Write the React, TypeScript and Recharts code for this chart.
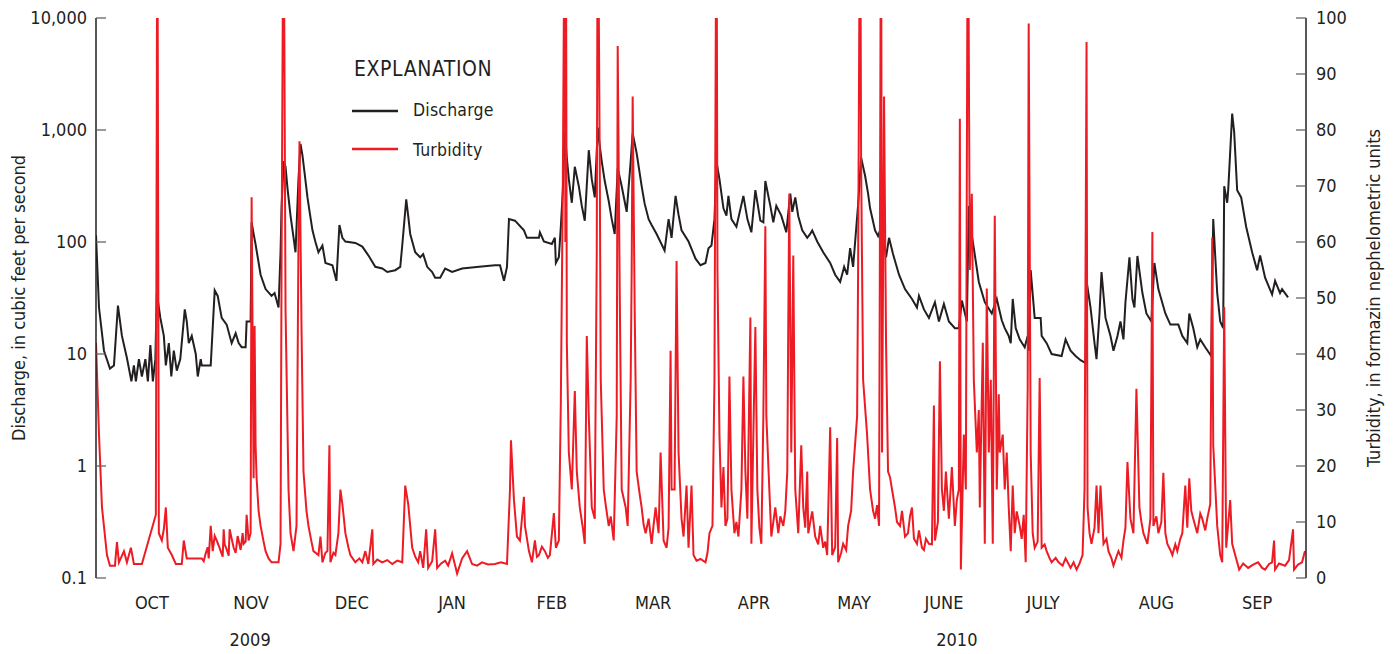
import React from 'react';
import { ComposedChart, Line, XAxis, YAxis, Legend, Label } from 'recharts';

const FONT = '"Liberation Sans Narrow", "Arial Narrow", "DejaVu Sans Condensed", Roboto, sans-serif';
const INK = '#231f20';
const RED = '#ed1c24';
const TICK_GREY = '#58595b';

// [month since 1 Oct 2009 (fractional), discharge in cubic feet per second]
const dischargeReadings: [number, number][] = [
  [0.00, 115], [0.03, 26], [0.08, 10.7], [0.14, 7.4], [0.18, 7.9], [0.22, 27], [0.26, 14.5], [0.31, 9.2],
  [0.355, 5.7], [0.38, 7.9], [0.40, 5.7], [0.43, 9], [0.46, 6.3], [0.495, 9], [0.52, 5.7], [0.545, 12],
  [0.57, 5.7], [0.595, 9], [0.61, 35], [0.645, 21], [0.68, 14.5], [0.70, 7.9], [0.73, 12.5], [0.755, 6.3],
  [0.78, 10.7], [0.81, 7.1], [0.845, 9], [0.89, 25], [0.91, 19.5], [0.93, 12.5], [0.96, 14.5], [1.00, 10],
  [1.02, 6.3], [1.05, 9], [1.06, 7.9], [1.11, 7.9], [1.15, 7.9], [1.19, 37], [1.22, 33], [1.26, 21],
  [1.31, 18.3], [1.36, 12.5], [1.40, 15.3], [1.43, 12.5], [1.46, 11.5], [1.50, 11.5], [1.51, 19.5], [1.55, 19.5],
  [1.56, 150], [1.58, 118], [1.60, 95], [1.65, 51], [1.70, 38], [1.76, 33], [1.79, 35], [1.83, 26],
  [1.85, 81], [1.86, 200], [1.88, 525], [1.90, 470], [1.92, 300], [1.95, 172], [1.98, 110], [2.00, 81],
  [2.03, 364], [2.05, 750], [2.07, 590], [2.09, 420], [2.12, 250], [2.14, 190], [2.17, 127], [2.20, 100],
  [2.23, 81], [2.27, 93], [2.30, 65], [2.37, 62], [2.41, 45], [2.44, 142], [2.47, 109], [2.50, 101],
  [2.60, 98], [2.67, 91], [2.73, 76], [2.80, 60], [2.87, 58], [2.92, 54], [3.00, 56], [3.05, 60],
  [3.07, 93], [3.11, 240], [3.13, 170], [3.15, 118], [3.20, 81], [3.25, 73], [3.28, 78], [3.32, 60],
  [3.37, 54], [3.40, 48], [3.45, 48], [3.50, 58], [3.57, 54], [3.67, 58], [3.84, 60], [4.00, 62],
  [4.05, 62], [4.09, 45], [4.12, 60], [4.14, 160], [4.20, 155], [4.29, 127], [4.32, 109], [4.44, 109],
  [4.45, 122], [4.49, 101], [4.57, 96], [4.60, 109], [4.61, 65], [4.64, 73], [4.66, 137], [4.68, 290],
  [4.70, 1000], [4.72, 560], [4.74, 364], [4.77, 224], [4.80, 470], [4.84, 315], [4.87, 210], [4.90, 155],
  [4.94, 660], [4.97, 364], [5.00, 250], [5.03, 1050], [5.05, 720], [5.07, 525], [5.10, 350], [5.14, 232],
  [5.17, 160], [5.20, 118], [5.23, 456], [5.27, 315], [5.32, 186], [5.36, 525], [5.38, 933], [5.42, 620],
  [5.47, 315], [5.50, 220], [5.54, 160], [5.57, 142], [5.62, 118], [5.70, 84], [5.74, 160], [5.77, 109],
  [5.81, 258], [5.84, 175], [5.87, 127], [5.94, 101], [6.01, 71], [6.06, 62], [6.11, 65], [6.14, 88],
  [6.17, 93], [6.20, 160], [6.22, 525], [6.25, 364], [6.29, 200], [6.32, 172], [6.34, 258], [6.37, 160],
  [6.42, 137], [6.49, 258], [6.53, 160], [6.57, 122], [6.61, 290], [6.66, 155], [6.69, 150], [6.71, 350],
  [6.76, 210], [6.79, 150], [6.82, 210], [6.87, 172], [6.92, 122], [6.96, 270], [6.98, 186], [7.01, 250],
  [7.04, 170], [7.08, 127], [7.13, 109], [7.16, 118], [7.18, 127], [7.23, 101], [7.29, 81], [7.36, 65],
  [7.41, 51], [7.46, 44], [7.50, 60], [7.53, 51], [7.56, 88], [7.59, 60], [7.64, 215], [7.67, 570],
  [7.69, 470], [7.71, 390], [7.74, 270], [7.76, 200], [7.81, 127], [7.84, 113], [7.88, 142], [7.92, 73],
  [7.95, 109], [7.99, 78], [8.05, 51], [8.11, 38], [8.18, 31], [8.23, 26], [8.25, 33], [8.30, 25],
  [8.35, 21], [8.41, 29], [8.45, 19.5], [8.50, 28], [8.55, 19.5], [8.61, 17], [8.65, 17], [8.68, 30],
  [8.73, 19.5], [8.75, 210], [8.77, 130], [8.80, 88], [8.85, 44], [8.91, 29], [8.98, 23], [9.03, 31],
  [9.05, 26], [9.08, 20], [9.11, 17], [9.15, 14.5], [9.17, 12.5], [9.19, 31], [9.22, 17], [9.26, 13.5],
  [9.31, 11.5], [9.34, 14.5], [9.35, 10.7], [9.37, 56], [9.41, 21], [9.47, 21], [9.48, 14.5], [9.53, 12.5],
  [9.58, 10], [9.68, 9.6], [9.72, 13.5], [9.77, 10.7], [9.82, 9.6], [9.87, 8.8], [9.92, 8.3], [9.93, 45],
  [9.97, 26], [10.01, 12.5], [10.03, 9], [10.06, 23], [10.08, 54], [10.12, 21], [10.17, 14.5], [10.20, 10.7],
  [10.24, 14.5], [10.27, 19.5], [10.30, 13.5], [10.32, 29], [10.36, 73], [10.39, 31], [10.41, 26], [10.44, 75],
  [10.49, 35], [10.53, 23], [10.58, 19.5], [10.61, 65], [10.65, 38], [10.72, 23], [10.77, 18.3], [10.85, 18.3],
  [10.89, 14.5], [10.94, 12.5], [10.96, 23], [11.00, 17], [11.04, 11.5], [11.07, 13.5], [11.12, 11.5], [11.18, 9.6],
  [11.20, 160], [11.24, 35], [11.27, 19.5], [11.30, 17], [11.31, 315], [11.34, 224], [11.35, 290], [11.39, 1400],
  [11.41, 960], [11.44, 290], [11.48, 250], [11.53, 137], [11.59, 81], [11.64, 56], [11.67, 76], [11.72, 48],
  [11.79, 34], [11.82, 45], [11.87, 35], [11.89, 38], [11.95, 32],
];

// [month since 1 Oct 2009 (fractional), turbidity in FNU]
const turbidityReadings: [number, number][] = [
  [0.00, 42], [0.03, 25.6], [0.06, 12.6], [0.11, 4.1], [0.14, 2.2], [0.19, 2.2], [0.21, 6.4], [0.23, 2.8],
  [0.28, 4.8], [0.31, 2.8], [0.35, 5.4], [0.38, 2.5], [0.46, 2.5], [0.60, 11.3], [0.615, 130], [0.63, 8],
  [0.66, 6.7], [0.68, 8.7], [0.70, 12.6], [0.72, 5.4], [0.76, 4.1], [0.80, 2.5], [0.86, 2.5], [0.88, 6.7],
  [0.91, 3.5], [0.96, 3.5], [1.06, 3.5], [1.08, 3.0], [1.10, 4.4], [1.12, 5.5], [1.13, 3.5], [1.15, 9.3],
  [1.17, 4.8], [1.19, 7.5], [1.21, 6.7], [1.23, 5.8], [1.25, 4.8], [1.27, 3.8], [1.28, 8.7], [1.29, 6.0],
  [1.31, 5.1], [1.33, 4.0], [1.34, 8.7], [1.36, 7.0], [1.38, 5.4], [1.40, 4.5], [1.42, 7.5], [1.43, 6.7],
  [1.45, 5.0], [1.47, 8.0], [1.48, 6.1], [1.50, 6.5], [1.51, 11.3], [1.53, 6.7], [1.55, 8], [1.56, 68],
  [1.58, 17.8], [1.59, 45], [1.60, 23.7], [1.61, 17.8], [1.63, 12], [1.65, 9.3], [1.68, 6.5], [1.70, 4.8],
  [1.73, 3.5], [1.76, 2.8], [1.83, 2.8], [1.85, 6.1], [1.86, 55], [1.88, 130], [1.90, 48], [1.93, 15.8],
  [1.95, 8], [1.98, 4.8], [2.01, 9.3], [2.03, 61], [2.04, 78], [2.06, 45], [2.08, 19], [2.11, 12],
  [2.13, 9.3], [2.16, 6.5], [2.18, 4.8], [2.23, 4.1], [2.25, 7.4], [2.27, 2.8], [2.30, 4.5], [2.32, 4.8],
  [2.34, 23.7], [2.35, 2.8], [2.38, 4.5], [2.40, 4.1], [2.43, 8], [2.45, 15.8], [2.47, 13.2], [2.50, 8],
  [2.53, 5.5], [2.55, 4.1], [2.60, 2.8], [2.64, 3.5], [2.67, 2.8], [2.70, 4.8], [2.73, 2.5], [2.77, 8.7],
  [2.78, 2.5], [2.82, 3.3], [2.87, 2.8], [2.92, 3.2], [2.97, 2.5], [3.02, 3.1], [3.07, 2.8], [3.10, 16.5],
  [3.13, 13.2], [3.17, 5.4], [3.20, 3.8], [3.23, 2.8], [3.25, 4.8], [3.28, 1.8], [3.31, 8.7], [3.33, 1.8],
  [3.37, 3.0], [3.40, 8.7], [3.42, 1.8], [3.46, 2.6], [3.50, 3.1], [3.53, 2.2], [3.57, 4.4], [3.62, 0.8],
  [3.67, 3.5], [3.72, 4.8], [3.77, 2.5], [3.82, 2.2], [3.87, 2.8], [3.93, 2.4], [4.00, 2.5], [4.06, 2.8],
  [4.12, 2.5], [4.15, 15.8], [4.16, 24.6], [4.19, 13.9], [4.22, 7.4], [4.25, 6.7], [4.29, 14.5], [4.30, 9.3],
  [4.34, 4.8], [4.37, 2.8], [4.40, 6.7], [4.42, 3.8], [4.44, 4.1], [4.47, 5.6], [4.50, 4.8], [4.53, 3.6],
  [4.55, 4.1], [4.59, 11.6], [4.61, 5.4], [4.64, 6.7], [4.66, 31.5], [4.68, 71], [4.70, 130], [4.705, 60],
  [4.71, 130], [4.72, 42], [4.74, 22.4], [4.77, 15.8], [4.80, 33.4], [4.82, 19], [4.85, 12.6], [4.88, 9],
  [4.90, 6.1], [4.92, 43.2], [4.94, 28.9], [4.97, 12.6], [5.00, 10.6], [5.02, 58], [5.03, 130], [5.05, 74.5],
  [5.06, 35.4], [5.09, 15.8], [5.11, 13], [5.14, 9.3], [5.16, 11], [5.19, 6.7], [5.22, 28.9], [5.23, 95],
  [5.25, 51.7], [5.27, 15.8], [5.31, 12.6], [5.33, 9.3], [5.36, 35.4], [5.37, 55], [5.38, 86], [5.40, 48.4],
  [5.42, 19], [5.45, 15], [5.47, 12.6], [5.49, 9.5], [5.51, 8], [5.54, 10.6], [5.57, 6.1], [5.59, 9.5],
  [5.61, 12.6], [5.64, 8], [5.66, 22.4], [5.69, 6.7], [5.72, 5.4], [5.74, 9], [5.76, 40.6], [5.77, 15.8],
  [5.80, 15.8], [5.82, 56.6], [5.84, 22.4], [5.87, 10.6], [5.89, 7.4], [5.92, 16.5], [5.94, 5.4], [5.97, 16.5],
  [5.99, 4.1], [6.02, 3.1], [6.06, 3.4], [6.11, 2.8], [6.13, 4.5], [6.15, 8], [6.18, 9.3], [6.20, 35.4],
  [6.22, 130], [6.23, 55], [6.25, 25.6], [6.27, 12.6], [6.29, 19.8], [6.31, 9.3], [6.33, 10.6], [6.35, 36],
  [6.37, 15.8], [6.40, 8], [6.42, 10], [6.44, 7.4], [6.47, 15.8], [6.49, 36], [6.51, 19], [6.53, 10.6],
  [6.56, 46.5], [6.57, 6.1], [6.60, 35.4], [6.61, 44.8], [6.63, 15.8], [6.65, 9], [6.67, 6.1], [6.69, 28.9],
  [6.71, 62.8], [6.72, 28.9], [6.75, 15.8], [6.77, 7.4], [6.79, 10], [6.81, 12.6], [6.84, 8], [6.86, 11],
  [6.89, 9.3], [6.91, 12], [6.93, 19], [6.94, 45.8], [6.95, 68.6], [6.97, 22.4], [6.99, 57.6], [7.01, 15.8],
  [7.04, 8], [7.07, 23.7], [7.09, 12.6], [7.11, 9], [7.13, 19], [7.14, 8], [7.16, 10], [7.18, 11.9],
  [7.21, 7.4], [7.24, 6], [7.26, 9.3], [7.29, 5.4], [7.31, 6.5], [7.33, 4.1], [7.36, 26.9], [7.38, 4.1],
  [7.41, 5.5], [7.43, 25], [7.44, 2.8], [7.47, 4.5], [7.49, 6.1], [7.52, 5], [7.54, 9.3], [7.57, 12],
  [7.59, 19], [7.63, 28.9], [7.64, 55], [7.66, 130], [7.67, 74.5], [7.69, 35.4], [7.73, 25.6], [7.76, 15.8],
  [7.79, 12], [7.81, 10.6], [7.83, 13], [7.85, 9.3], [7.87, 130], [7.88, 22.4], [7.90, 86], [7.92, 42],
  [7.94, 19], [7.96, 18], [7.98, 15.8], [8.01, 12.6], [8.03, 10], [8.06, 9.3], [8.08, 12], [8.11, 7.4],
  [8.14, 8], [8.16, 11], [8.18, 12.6], [8.20, 7], [8.23, 6.1], [8.25, 8.5], [8.28, 5.4], [8.30, 5],
  [8.32, 7], [8.35, 6.1], [8.38, 6], [8.40, 30.8], [8.41, 6.7], [8.44, 10], [8.46, 38.7], [8.48, 15.8],
  [8.50, 12], [8.52, 19], [8.55, 10.6], [8.58, 19.8], [8.61, 9.3], [8.63, 14], [8.65, 15.8], [8.66, 82],
  [8.67, 1.5], [8.70, 25.6], [8.72, 15.8], [8.74, 130], [8.76, 55], [8.78, 68.6], [8.80, 35.4], [8.83, 22.4],
  [8.85, 30], [8.86, 12.6], [8.89, 42], [8.91, 6.1], [8.93, 51.7], [8.95, 22.4], [8.97, 35.4], [8.99, 6.1],
  [9.01, 64.7], [9.03, 15.8], [9.05, 32.8], [9.06, 22.4], [9.09, 25.6], [9.11, 15.8], [9.13, 22.4], [9.15, 12.6],
  [9.17, 4.8], [9.19, 16.5], [9.21, 8], [9.23, 11.9], [9.26, 9.3], [9.28, 7], [9.30, 11.3], [9.32, 2.8],
  [9.34, 34], [9.35, 99], [9.37, 22.4], [9.39, 8], [9.41, 5.4], [9.44, 6.5], [9.46, 35.7], [9.48, 5.4],
  [9.51, 6], [9.53, 4.8], [9.56, 3.5], [9.58, 2.8], [9.62, 3.6], [9.65, 2.8], [9.69, 2.2], [9.72, 3.5],
  [9.77, 1.8], [9.80, 2.8], [9.83, 1.5], [9.86, 2.6], [9.89, 4.1], [9.91, 15.8], [9.93, 95.7], [9.94, 12.6],
  [9.96, 8], [9.98, 6.1], [10.01, 9], [10.03, 16.5], [10.05, 8], [10.07, 16.5], [10.10, 6.1], [10.13, 7],
  [10.15, 4.8], [10.18, 3.5], [10.20, 2.2], [10.23, 3.8], [10.25, 4.8], [10.28, 3.6], [10.30, 6.7], [10.32, 9],
  [10.34, 20.7], [10.37, 10.6], [10.40, 8], [10.43, 33.8], [10.46, 12.6], [10.48, 10], [10.50, 8], [10.54, 6.1],
  [10.57, 10.6], [10.59, 61.8], [10.60, 9.3], [10.63, 11], [10.65, 8], [10.68, 10], [10.70, 18.8], [10.72, 8],
  [10.74, 6.1], [10.77, 5], [10.79, 4.1], [10.82, 6], [10.84, 4.8], [10.87, 7], [10.89, 8], [10.92, 16.5],
  [10.94, 9], [10.96, 17.8], [10.98, 12], [11.00, 10.6], [11.04, 8], [11.07, 11.5], [11.09, 10.6], [11.12, 8.5],
  [11.14, 10.6], [11.17, 13.2], [11.19, 60.8], [11.20, 23.7], [11.24, 9.3], [11.27, 4.1], [11.29, 2.8], [11.31, 48.4],
  [11.33, 5.4], [11.37, 13.9], [11.39, 6.1], [11.42, 4.1], [11.46, 1.5], [11.50, 2.6], [11.55, 1.8], [11.60, 2.4],
  [11.65, 2.8], [11.69, 1.8], [11.72, 1.5], [11.76, 2.5], [11.79, 2.8], [11.81, 6.7], [11.82, 1.5], [11.86, 2.6],
  [11.92, 2.2], [11.96, 3.2], [12.00, 8.7], [12.01, 1.5], [12.05, 2.4], [12.09, 2.8], [12.12, 4.8],
];

const monthTicks = [1, 2, 3, 4, 5, 6, 7, 8, 9, 10, 11];
const monthLabels = ['OCT', 'NOV', 'DEC', 'JAN', 'FEB', 'MAR', 'APR', 'MAY', 'JUNE', 'JULY', 'AUG', 'SEP'];
const monthLabelAt = [0.56, 1.555, 2.565, 3.57, 4.57, 5.585, 6.595, 7.6, 8.5, 9.495, 10.63, 11.64];
const yearLabels = ['2009', '2010'];
const yearLabelAt = [1.545, 8.63];
const dischargeTicks = [0.1, 1, 10, 100, 1000, 10000];
const turbidityTicks = [0, 10, 20, 30, 40, 50, 60, 70, 80, 90, 100];

const X_DOMAIN: [number, number] = [0, 12.13];

const dischargeData = dischargeReadings.map(([m, q]) => ({ month: m, q }));
const turbidityData = turbidityReadings.map(([m, t]) => ({ month: m, t }));
const labelTicks = [...monthLabelAt, ...yearLabelAt];

const fmtQ = (v: number) => (v >= 1000 ? v.toLocaleString('en-US') : String(v));

const BottomLabelTick = (props: any) => {
  const { x, y, payload } = props;
  const v = payload && payload.value;
  const mi = monthLabelAt.indexOf(v);
  if (mi >= 0) {
    return (
      <text x={x} y={y + 31} textAnchor="middle" fontFamily={FONT} fontSize={18} fill={INK}>
        {monthLabels[mi]}
      </text>
    );
  }
  const yi = yearLabelAt.indexOf(v);
  if (yi >= 0) {
    return (
      <text x={x} y={y + 68} textAnchor="middle" fontFamily={FONT} fontSize={18} fill={INK}>
        {yearLabels[yi]}
      </text>
    );
  }
  return <g />;
};

const leftTitle = (p: any) => {
  const vb = p.viewBox || { x: 0, y: 10, width: 88, height: 560 };
  const cx = vb.x + 10;
  const cy = vb.y + vb.height / 2;
  return (
    <text x={cx} y={cy} transform={`rotate(-90 ${cx} ${cy})`} textAnchor="middle" dominantBaseline="central"
      fontFamily={FONT} fontSize={18} fill={INK}>
      Discharge, in cubic feet per second
    </text>
  );
};

const rightTitle = (p: any) => {
  const vb = p.viewBox || { x: 1298, y: 10, width: 92, height: 560 };
  const cx = vb.x + 67;
  const cy = vb.y + vb.height / 2;
  return (
    <text x={cx} y={cy} transform={`rotate(-90 ${cx} ${cy})`} textAnchor="middle" dominantBaseline="central"
      fontFamily={FONT} fontSize={18} fill={INK}>
      Turbidity, in formazin nephelometric units
    </text>
  );
};

const LegendBox = () => (
  <svg width={220} height={120} style={{ display: 'block', overflow: 'visible' }}>
    <text x={6} y={18} fontFamily={FONT} fontSize={21} letterSpacing={0.6} fill={INK}>EXPLANATION</text>
    <line x1={4} x2={50} y1={53} y2={53} stroke={INK} strokeWidth={2.5} />
    <text x={65} y={58} fontFamily={FONT} fontSize={17.5} letterSpacing={0.2} fill={INK}>Discharge</text>
    <line x1={4} x2={50} y1={91} y2={91} stroke={RED} strokeWidth={2.5} />
    <text x={65} y={98} fontFamily={FONT} fontSize={17.5} letterSpacing={0.2} fill={INK}>Turbidity</text>
  </svg>
);

export default function App() {
  return (
    <ComposedChart width={1390} height={646} margin={{ top: 10, right: 0, bottom: 0, left: 0 }}
      style={{ fontFamily: FONT }}>
      <XAxis xAxisId="main" dataKey="month" type="number" domain={X_DOMAIN} allowDataOverflow
        orientation="bottom" height={0} ticks={monthTicks} interval={0} tick={false}
        tickSize={-10} tickLine={{ stroke: TICK_GREY, strokeWidth: 1.2 }}
        axisLine={{ stroke: INK, strokeWidth: 1.5 }} />
      <XAxis xAxisId="labels" dataKey="month" type="number" domain={X_DOMAIN} allowDataOverflow
        orientation="bottom" height={76} ticks={labelTicks} interval={0} tick={<BottomLabelTick />}
        tickSize={0} tickMargin={0} tickLine={false} axisLine={false} />
      <XAxis xAxisId="top" dataKey="month" type="number" domain={X_DOMAIN} allowDataOverflow
        orientation="top" height={0} ticks={monthTicks} interval={0} tick={false}
        tickSize={-10} tickLine={{ stroke: TICK_GREY, strokeWidth: 1.2 }}
        axisLine={{ stroke: INK, strokeWidth: 1.5 }} />
      <YAxis yAxisId="q" orientation="left" width={88} scale="log" domain={[0.1, 10000]} allowDataOverflow
        ticks={dischargeTicks} interval={0} tickFormatter={fmtQ} tickSize={-10} tickMargin={19}
        tick={{ fontFamily: FONT, fontSize: 18, fill: INK }}
        tickLine={{ stroke: TICK_GREY, strokeWidth: 1.2 }} axisLine={{ stroke: INK, strokeWidth: 1.5 }}>
        <Label content={leftTitle} />
      </YAxis>
      <YAxis yAxisId="t" orientation="right" width={92} type="number" domain={[0, 100]} allowDataOverflow
        ticks={turbidityTicks} interval={0} tickSize={-10} tickMargin={20}
        tick={{ fontFamily: FONT, fontSize: 18, fill: INK }}
        tickLine={{ stroke: TICK_GREY, strokeWidth: 1.2 }} axisLine={{ stroke: INK, strokeWidth: 1.5 }}>
        <Label content={rightTitle} />
      </YAxis>
      <Legend layout="vertical" align="center" verticalAlign="middle"
        wrapperStyle={{ left: 340, top: 50, width: 220, height: 120 }}
        content={() => <LegendBox />} />
      <Line data={dischargeData} dataKey="q" xAxisId="main" yAxisId="q" type="linear" stroke={INK}
        strokeWidth={2} dot={false} activeDot={false} isAnimationActive={false} name="Discharge" />
      <Line data={turbidityData} dataKey="t" xAxisId="main" yAxisId="t" type="linear" stroke={RED}
        strokeWidth={2} dot={false} activeDot={false} isAnimationActive={false} name="Turbidity" />
    </ComposedChart>
  );
}
